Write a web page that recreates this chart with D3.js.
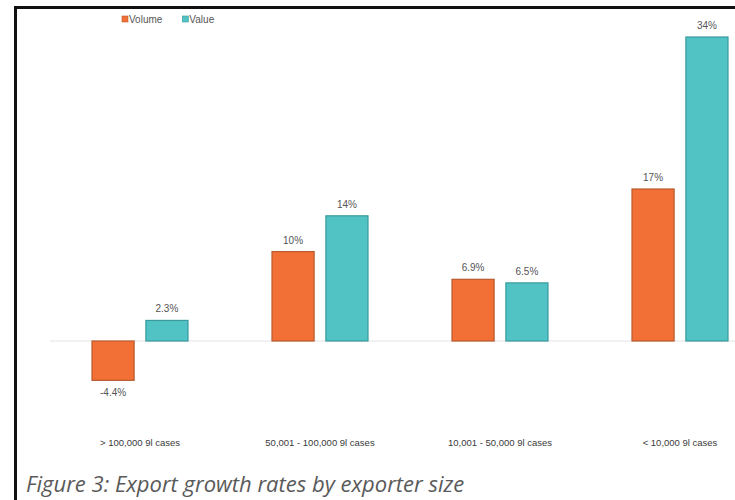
<!DOCTYPE html>
<html>
<head>
<meta charset="utf-8">
<script src="https://cdn.jsdelivr.net/npm/d3@7"></script>
<style>
  body { margin: 0; background: #fff; }
  svg { display: block; }
</style>
</head>
<body>
<div id="chart"></div>
<script>
// exporter size groups
var categories = ["> 100,000 9l cases", "50,001 - 100,000 9l cases",
  "10,001 - 50,000 9l cases", "< 10,000 9l cases"];
var seriesNames = ["Volume", "Value"];
var volume = [-4.4, 10, 6.9, 17];
var value = [2.3, 14, 6.5, 34];
var volumeLabels = ["-4.4%", "10%", "6.9%", "17%"];
var valueLabels = ["2.3%", "14%", "6.5%", "34%"];

var width = 735, height = 500,
  colors = { Volume: "#f26f35", Value: "#52c3c5" },
  strokes = { Volume: "#b85a2e", Value: "#3a9a9b" },
  textGrey = "#555";

var svg = d3.select("#chart").append("svg")
  .attr("width", width)
  .attr("height", height);

// frame (left and top edge only, image is cropped)
svg.append("path")
  .attr("d", "M15.5,500 L15.5,7.5 L735,7.5")
  .attr("fill", "none")
  .attr("stroke", "#111")
  .attr("stroke-width", 3);

// data rows
var rows = categories.map(function (c, i) {
  return {
    cat: c,
    bars: [
      { key: "Volume", v: volume[i], label: volumeLabels[i] },
      { key: "Value", v: value[i], label: valueLabels[i] }
    ]
  };
});

var x0 = d3.scaleBand()
  .domain(categories)
  .range([50, 770])
  .paddingInner(0)
  .paddingOuter(0);

var x1 = d3.scaleBand()
  .domain(seriesNames)
  .range([x0.bandwidth() / 2 - 48.5, x0.bandwidth() / 2 + 48.5])
  .paddingInner(0.2);

var y = d3.scaleLinear()
  .domain([0, 34])
  .range([341, 37]);

// zero line
svg.append("line")
  .attr("x1", 50).attr("x2", width)
  .attr("y1", y(0)).attr("y2", y(0))
  .attr("stroke", "#e3e3e3")
  .attr("stroke-width", 1.2);

var groups = svg.selectAll(".group")
  .data(rows)
  .enter().append("g")
  .attr("class", "group")
  .attr("transform", function (d) { return "translate(" + x0(d.cat) + ",0)"; });

groups.selectAll("rect")
  .data(function (d) { return d.bars; })
  .enter().append("rect")
  .attr("x", function (d) { return x1(d.key) + 0.5; })
  .attr("width", x1.bandwidth() - 1)
  .attr("y", function (d) { return Math.min(y(d.v), y(0)); })
  .attr("height", function (d) { return Math.abs(y(d.v) - y(0)); })
  .attr("fill", function (d) { return colors[d.key]; })
  .attr("stroke", function (d) { return strokes[d.key]; })
  .attr("stroke-width", 1.2);

groups.selectAll(".vlabel")
  .data(function (d) { return d.bars; })
  .enter().append("text")
  .attr("class", "vlabel")
  .attr("x", function (d) { return x1(d.key) + x1.bandwidth() / 2; })
  .attr("y", function (d) { return d.v >= 0 ? y(d.v) - 8 : y(d.v) + 16; })
  .attr("text-anchor", "middle")
  .attr("font-family", "Liberation Sans, Arial, sans-serif")
  .attr("font-size", 10)
  .attr("fill", textGrey)
  .text(function (d) { return d.label; });

// category labels
svg.selectAll(".cat")
  .data(categories)
  .enter().append("text")
  .attr("class", "cat")
  .attr("x", function (d) { return x0(d) + x0.bandwidth() / 2; })
  .attr("y", 446)
  .attr("text-anchor", "middle")
  .attr("font-family", "Liberation Sans, Arial, sans-serif")
  .attr("font-size", 9.5)
  .attr("fill", "#3a3a3a")
  .text(function (d) { return d; });

// legend
var legend = svg.append("g").attr("transform", "translate(122,20)");
var lx = 0;
seriesNames.forEach(function (s) {
  legend.append("rect")
    .attr("x", lx).attr("y", -4)
    .attr("width", 6).attr("height", 6)
    .attr("fill", colors[s])
    .attr("stroke", strokes[s])
    .attr("stroke-width", 0.6);
  var t = legend.append("text")
    .attr("x", lx + 7).attr("y", 2.5)
    .attr("font-family", "Liberation Sans, Arial, sans-serif")
    .attr("font-size", 10)
    .attr("fill", textGrey)
    .text(s);
  lx += 7 + t.node().getComputedTextLength() + 20;
});

// caption
svg.append("text")
  .attr("x", 26)
  .attr("y", 492)
  .attr("font-family", "Open Sans, sans-serif")
  .attr("font-style", "italic")
  .attr("font-size", 22)
  .attr("fill", "#5a5a5a")
  .text("Figure 3: Export growth rates by exporter size");
</script>
</body>
</html>
